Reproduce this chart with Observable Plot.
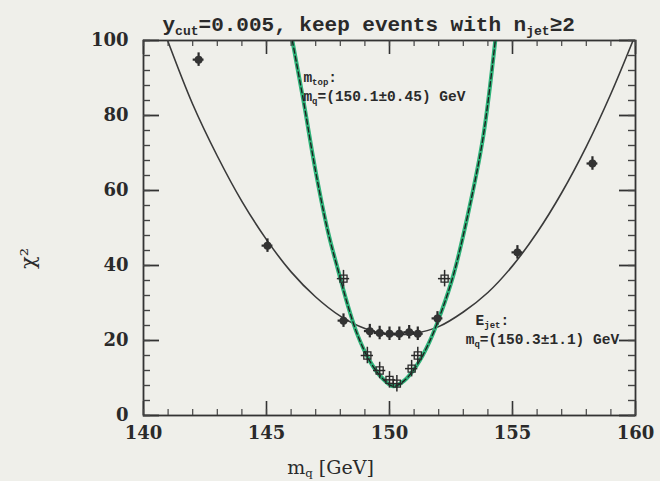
<!DOCTYPE html>
<html>
<head>
<meta charset="utf-8">
<script src="https://cdn.jsdelivr.net/npm/d3@7"></script>
<script src="https://cdn.jsdelivr.net/npm/@observablehq/plot@0.6"></script>
<style>
  html, body { margin: 0; padding: 0; background: #efefea; }
  #chart { width: 660px; height: 481px; }
</style>
</head>
<body>
<div id="chart"></div>
<script>
// ---- data ----
// black curve: E_jet chi^2 fit
const ejetCurveM   = [140.98, 142, 143, 144, 145, 146, 147, 148, 149, 150, 151, 152, 153, 154, 155, 156, 157, 158, 159, 159.9];
const ejetCurveChi = [100, 83, 69.2, 57.1, 46.9, 38.3, 31.6, 26.5, 23.2, 21.6, 21.9, 23.7, 27.6, 32.8, 39.9, 48.8, 59.4, 71.7, 85.8, 100];
// green curve: m_top chi^2 fit
const mtopCurveM   = [146.05, 146.5, 147.0, 147.5, 147.9, 148.3, 148.7, 149.2, 149.7, 150.15, 150.6, 151.1, 151.6, 152.1, 152.6, 153.2, 153.8, 154.3];
const mtopCurveChi = [100, 84, 65, 49, 39, 29.5, 21.5, 14.5, 10, 7.8, 9.3, 13.3, 19.3, 27.5, 37.5, 54, 74, 100];
// E_jet points (filled crosses)
const ejetM   = [142.24, 145.04, 148.13, 149.2, 149.6, 150.0, 150.4, 150.8, 151.15, 151.95, 155.2, 158.25];
const ejetChi = [94.9, 45.3, 25.3, 22.5, 22.0, 21.8, 21.8, 22.2, 21.8, 25.9, 43.5, 67.2];
const ejetErrM = 0.22, ejetErrChi = 1.8;
// m_top points (open crosses)
const mtopM   = [148.13, 149.1, 149.6, 150.0, 150.3, 150.9, 151.15, 152.24];
const mtopChi = [36.5, 16, 12, 9.5, 8.5, 12.5, 16, 36.5];
const mtopErrM = 0.25, mtopErrChi = 2.2;
// axes
const xMajor = [140, 145, 150, 155, 160];
const xMinor = d3.range(140, 161, 1);
const yMajor = [0, 20, 40, 60, 80, 100];
const yMinor = d3.range(0, 101, 4);
// texts
const titleText = "y_{cut}=0.005, keep events with n_{jet}≥2";
const mtopLabel = ["m_{top}:", "m_{q}=(150.1±0.45) GeV"];
const mtopLabelPos = {x: 146.5, y: [90.1, 85.2]};
const ejetLabel = ["E_{jet}:", "m_{q}=(150.3±1.1) GeV"];
const ejetLabelPos = {x: [153.5, 153.1], y: [25.4, 20.4]};
const xLabel = "m_{q} [GeV]";
const yLabel = "χ²";

const ink = "#2a2a2a";
const green = "#2fb37a";
const ejetCurve = ejetCurveM.map((m, i) => ({m, c: ejetCurveChi[i]}));
const mtopCurve = mtopCurveM.map((m, i) => ({m, c: mtopCurveChi[i]}));
const ejet = ejetM.map((m, i) => ({m, c: ejetChi[i]}));
const mtop = mtopM.map((m, i) => ({m, c: mtopChi[i]}));

const W = 660, H = 481, mL = 143, mR = 25, mT = 40, mB = 66;
const fh = H - mT - mB;
const fw = W - mL - mR;
const mono = "'Liberation Mono', monospace";
const serif = "'DejaVu Serif', serif";

const plot = Plot.plot({
  width: W, height: H,
  marginLeft: mL, marginRight: mR, marginTop: mT, marginBottom: mB,
  style: {background: "#efefea", color: ink, overflow: "visible"},
  x: {domain: [140, 160], axis: null},
  y: {domain: [0, 100], axis: null},
  marks: [
    // curves
    Plot.line(ejetCurve, {x: "m", y: "c", curve: "catmull-rom", stroke: "#3a3a3a", strokeWidth: 1.6, clip: true}),
    Plot.line(mtopCurve, {x: "m", y: "c", curve: "catmull-rom", stroke: green, strokeWidth: 4, clip: true}),
    Plot.line(mtopCurve, {x: "m", y: "c", curve: "catmull-rom", stroke: "#1c1c1c", strokeWidth: 1.3, strokeDasharray: "5,3", clip: true}),
    // E_jet points
    Plot.ruleX(ejet, {x: "m", y1: d => d.c - ejetErrChi, y2: d => d.c + ejetErrChi, stroke: ink, strokeWidth: 2.2}),
    Plot.ruleY(ejet, {y: "c", x1: d => d.m - ejetErrM, x2: d => d.m + ejetErrM, stroke: ink, strokeWidth: 2.2}),
    Plot.dot(ejet, {x: "m", y: "c", r: 4, fill: "#333", stroke: "none"}),
    // m_top points
    Plot.ruleX(mtop, {x: "m", y1: d => d.c - mtopErrChi, y2: d => d.c + mtopErrChi, stroke: ink, strokeWidth: 1.5}),
    Plot.ruleY(mtop, {y: "c", x1: d => d.m - mtopErrM, x2: d => d.m + mtopErrM, stroke: ink, strokeWidth: 1.5}),
    Plot.dot(mtop, {x: "m", y: "c", r: 4, symbol: "square", fill: "none", stroke: ink, strokeWidth: 1.3}),
    // frame and inward ticks on four sides
    Plot.frame({stroke: "#333", strokeWidth: 1.8}),
    Plot.ruleX(xMajor, {x: d => d, insetTop: fh - 14, stroke: "#333", strokeWidth: 1.6}),
    Plot.ruleX(xMajor, {x: d => d, insetBottom: fh - 14, stroke: "#333", strokeWidth: 1.6}),
    Plot.ruleX(xMinor, {x: d => d, insetTop: fh - 6, stroke: "#444", strokeWidth: 1.2}),
    Plot.ruleX(xMinor, {x: d => d, insetBottom: fh - 6, stroke: "#444", strokeWidth: 1.2}),
    Plot.ruleY(yMajor, {y: d => d, insetRight: fw - 16, stroke: "#333", strokeWidth: 1.8}),
    Plot.ruleY(yMajor, {y: d => d, insetLeft: fw - 16, stroke: "#333", strokeWidth: 1.8}),
    Plot.ruleY(yMinor, {y: d => d, insetRight: fw - 7, stroke: "#444", strokeWidth: 1.4}),
    Plot.ruleY(yMinor, {y: d => d, insetLeft: fw - 7, stroke: "#444", strokeWidth: 1.4}),
    // tick labels
    Plot.axisX(xMajor, {tickSize: 0, tickPadding: 11, fontSize: 18, fontFamily: serif, fontWeight: "bold", fill: ink, label: null}),
    Plot.axisY(yMajor, {tickSize: 0, tickPadding: 15, fontSize: 18, fontFamily: serif, fontWeight: "bold", fill: ink, label: null}),
    // axis titles
    Plot.text([xLabel], {text: d => d, frameAnchor: "bottom", dx: -59, dy: 58, fontSize: 19, fontFamily: serif, fill: ink}),
    Plot.text([yLabel], {text: d => d, frameAnchor: "left", dx: -115, dy: 41, rotate: -90, fontSize: 21, fontFamily: serif, fill: ink}),
    // title
    Plot.text([titleText], {text: d => d, frameAnchor: "top-left", textAnchor: "start", dx: 19, dy: -24, fontSize: 21, fontFamily: mono, fontWeight: "bold", fill: ink}),
    // annotations
    Plot.text(mtopLabel, {text: d => d, x: mtopLabelPos.x, y: (d, i) => mtopLabelPos.y[i], textAnchor: "start", fontSize: 14.5, fontFamily: mono, fontWeight: "bold", fill: ink}),
    Plot.text(ejetLabel, {text: d => d, x: (d, i) => ejetLabelPos.x[i], y: (d, i) => ejetLabelPos.y[i], textAnchor: "start", fontSize: 14.5, fontFamily: mono, fontWeight: "bold", fill: ink})
  ]
});

// turn _{..} / ^{..} into real sub/superscript tspans
d3.select(plot).selectAll("text").each(function () {
  const t = this.textContent;
  if (!/[_^]\{/.test(t)) return;
  const el = d3.select(this);
  el.text(null);
  const re = /([_^])\{([^}]*)\}/g;
  let last = 0, m;
  while ((m = re.exec(t))) {
    if (m.index > last) el.append("tspan").text(t.slice(last, m.index));
    el.append("tspan")
      .attr("font-size", "62%")
      .attr("baseline-shift", m[1] === "_" ? "-28%" : "45%")
      .text(m[2]);
    last = re.lastIndex;
  }
  if (last < t.length) el.append("tspan").text(t.slice(last));
});

document.getElementById("chart").appendChild(plot);
</script>
</body>
</html>
